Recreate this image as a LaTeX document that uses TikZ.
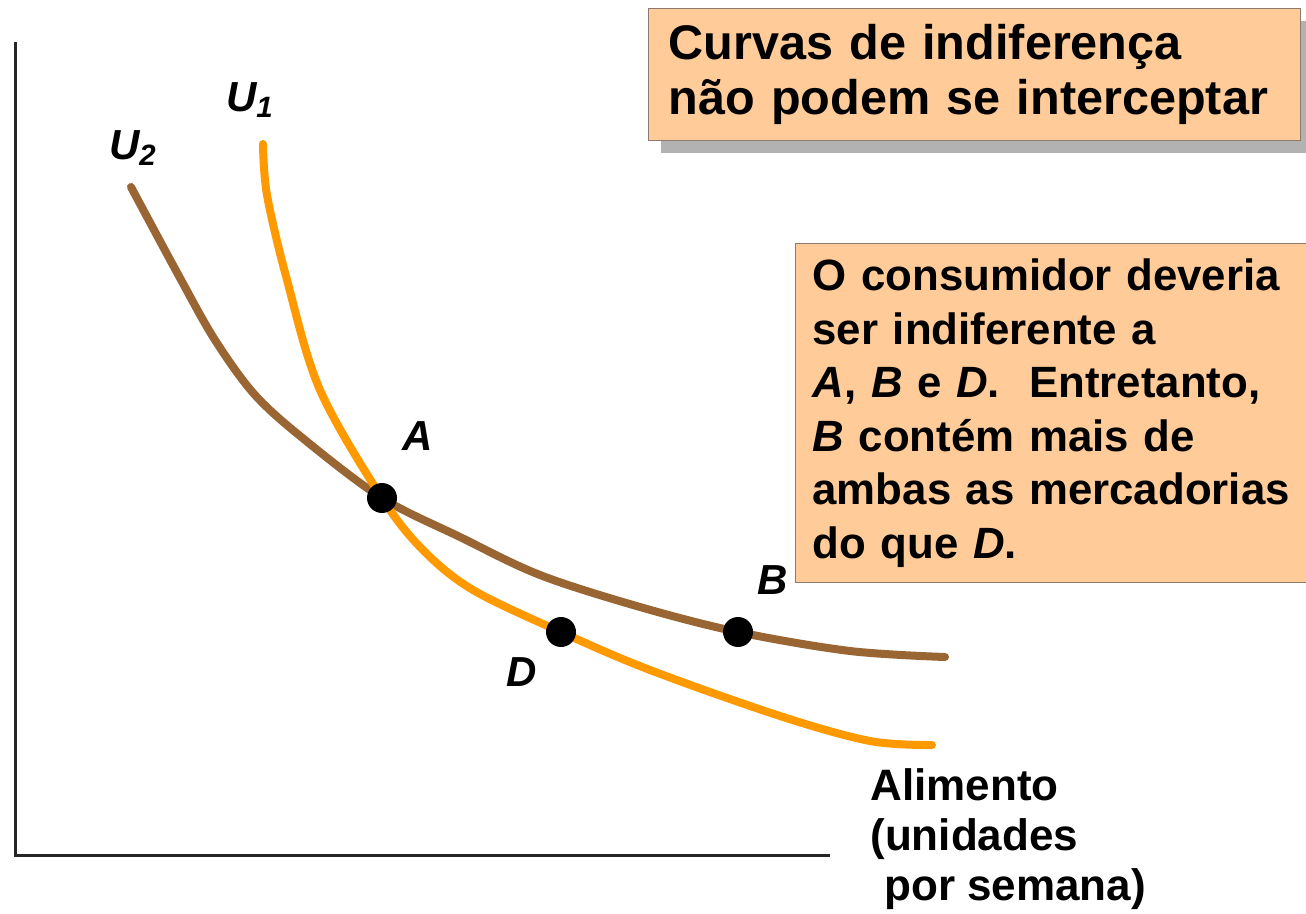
\documentclass[tikz,border=0pt]{standalone}
\usepackage{fontspec}
\setmainfont{Liberation Sans}
\usetikzlibrary{shadows}
\definecolor{u1col}{HTML}{FF9900}
\definecolor{u2col}{HTML}{996633}
\definecolor{boxfill}{HTML}{FFCC99}
\definecolor{boxline}{HTML}{8C7B6B}
\begin{document}
\begin{tikzpicture}[x=0.5pt,y=-0.5pt,
  axis/.style={line width=1.5pt,black!85},
  curveone/.style={line width=4pt,u1col,line cap=round},
  curvetwo/.style={line width=4pt,u2col,line cap=round},
  dot/.style={circle,fill=black,minimum size=15pt,inner sep=0pt},
  infobox/.style={draw=boxline,line width=0.6pt,fill=boxfill,anchor=north west,align=left,font=\bfseries},
  ptlabel/.style={font=\fontsize{21}{24}\selectfont\bfseries\itshape,inner sep=0pt},
  axlabel/.style={font=\fontsize{22}{25}\selectfont\bfseries,align=left,anchor=north west,inner sep=0pt}]
\useasboundingbox (0,0) rectangle (1306,914);
\fill[white] (0,0) rectangle (1306,914);
% axes
\coordinate (ytop) at (15,42);
\coordinate (origin) at (15,855);
\coordinate (xend) at (830,855);
\draw[axis] (ytop) -- (origin) -- (xend);
% key points
\coordinate (pA) at (382,498);
\coordinate (pD) at (561,632);
\coordinate (pB) at (738,632);
% curves
\draw[curvetwo] plot[smooth,tension=0.55] coordinates {(131,187) (180,278) (215,340) (255,395) (305,440) (pA) (460,537) (540,575) (640,607) (pB) (850,651) (945,657)};
\draw[curveone] plot[smooth,tension=0.55] coordinates {(263,144) (267,195) (287,280) (320,390) (pA) (423,550) (473,590) (pD) (650,670) (780,716) (870,741) (932,745)};
% dots
\node[dot] (A) at (pA) {};
\node[dot] (D) at (pD) {};
\node[dot] (B) at (pB) {};
% point labels
\node[ptlabel] (lA) at (418,436) {A};
\node[ptlabel] (lB) at (773,580) {B};
\node[ptlabel] (lD) at (522,672) {D};
\node[ptlabel] (lU1) at (250,100) {U\textsubscript{1}};
\node[ptlabel] (lU2) at (133,148) {U\textsubscript{2}};
% boxes
\node[infobox,drop shadow={shadow xshift=6pt,shadow yshift=-6pt,fill=black!30,opacity=1},
  minimum width=326pt,minimum height=66pt,inner xsep=10pt,text width=306pt,
  font=\fontsize{24.3}{27.5}\selectfont\bfseries] (title) at (648,8)
  {Curvas de indiferença\\não podem se interceptar};
\node[infobox,minimum height=169.5pt,inner xsep=8.5pt,text width=265pt,
  font=\fontsize{21.9}{26.8}\selectfont\bfseries] (note) at (795,243)
  {O consumidor deveria\\ser indiferente a\\\textit{A}, \textit{B} e \textit{D}.\ \ Entretanto,\\\textit{B} contém mais de\\ambas as mercadorias\\do que \textit{D}.};
% axis label
\node[axlabel] (xlabel) at (870,768) {Alimento\\(unidades\\\hspace*{7pt}por semana)};
\end{tikzpicture}
\end{document}
